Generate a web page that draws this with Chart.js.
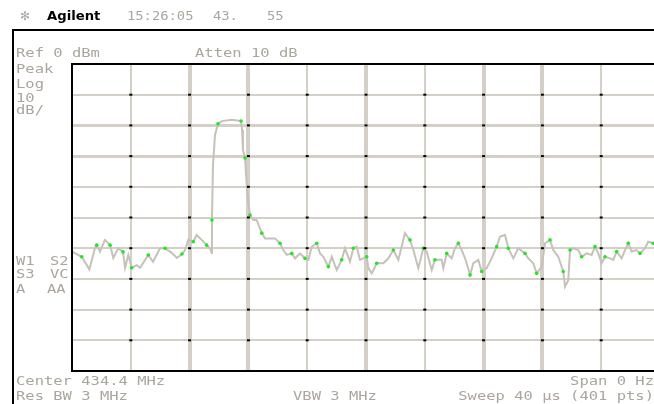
<!DOCTYPE html>
<html>
<head>
<meta charset="utf-8">
<script src="https://cdn.jsdelivr.net/npm/chart.js@4.4.0/dist/chart.umd.min.js"></script>
<style>
html, body { margin: 0; padding: 0; overflow: hidden; background: #fff; }
#wrap { width: 664px; height: 404px; }
</style>
</head>
<body>
<div id="wrap"><canvas id="sweepChart" width="664" height="404"></canvas></div>
<script>
// zero span sweep, 40 us across 10 divisions, 0 dBm ref, 10 dB/div
const timeUs = [
    0.00, 0.66, 1.18, 1.56, 1.68, 1.90, 2.24, 2.59, 2.81, 3.15, 3.47, 3.61, 3.83, 4.06, 4.40, 4.63,
    5.19, 5.51, 5.99, 6.33, 6.80, 7.14, 7.48, 7.69, 7.91, 8.25, 8.48, 8.82, 9.16, 9.39, 9.50, 9.52,
    9.59, 9.73, 9.93, 10.20, 10.88, 11.50, 11.57, 11.63, 11.77, 11.91, 12.04, 12.11, 12.33, 12.56,
    12.91, 13.13, 13.81, 14.15, 14.37, 14.61, 14.95, 15.17, 15.51, 15.85, 16.08, 16.31, 16.65, 16.87,
    17.10, 17.44, 17.67, 18.01, 18.35, 18.57, 18.91, 19.14, 19.37, 19.59, 20.05, 20.16, 20.39, 20.73,
    21.18, 21.52, 21.86, 22.20, 22.65, 22.99, 23.22, 23.56, 23.90, 24.13, 24.47, 24.69, 25.15, 25.26,
    25.49, 25.83, 26.05, 26.28, 26.51, 26.74, 27.08, 27.30, 27.64, 27.87, 28.21, 28.55, 28.89, 29.12,
    29.46, 29.68, 30.02, 30.36, 30.82, 31.04, 31.38, 31.61, 31.95, 32.18, 32.52, 32.74, 33.08, 33.42,
    33.54, 33.76, 33.88, 34.10, 34.44, 34.67, 35.01, 35.35, 35.58, 35.80, 36.03, 36.26, 36.60, 36.82,
    37.05, 37.39, 37.62, 37.84, 38.07, 38.41, 38.64, 38.98, 39.20, 39.54, 40.00
];
const levelDbm = [
    -61.1, -62.8, -66.9, -60.0, -59.0, -61.1, -57.3, -59.0, -63.2, -60.0, -61.2, -66.4, -62.2, -66.4, -65.5, -66.4,
    -62.2, -64.4, -60.0, -60.0, -61.6, -63.2, -61.9, -60.6, -57.3, -57.9, -55.7, -57.3, -59.0, -60.0, -61.6, -50.8,
    -32.9, -23.1, -19.5, -18.6, -18.2, -18.6, -21.5, -28.0, -30.6, -41.0, -46.9, -49.2, -50.8, -50.8,
    -55.1, -56.8, -56.8, -58.4, -60.6, -62.2, -61.7, -63.3, -61.7, -63.3, -63.8, -59.5, -58.4, -61.7,
    -62.8, -66.0, -62.8, -67.1, -63.8, -60.0, -64.4, -60.0, -59.5, -63.8, -62.8, -66.5, -68.2, -64.9,
    -64.9, -63.3, -60.6, -63.8, -55.1, -57.3, -60.6, -66.5, -60.0, -61.1, -67.1, -63.8, -63.8, -66.5,
    -61.7, -63.3, -60.0, -58.4, -60.6, -63.3, -68.7, -64.9, -63.8, -67.6, -66.5, -63.3, -59.5, -56.2,
    -55.7, -60.0, -63.3, -60.0, -61.7, -63.3, -64.9, -68.2, -66.0, -58.4, -57.3, -60.6, -62.8, -67.6,
    -72.5, -70.4, -60.6, -60.0, -60.6, -62.8, -61.7, -62.2, -59.5, -61.7, -64.9, -62.8, -63.3, -63.8,
    -61.1, -63.3, -60.6, -58.4, -61.1, -60.6, -61.7, -60.0, -57.9, -58.4, -59.0
];
const xDivisions = [0, 4, 8, 12, 16, 20, 24, 28, 32, 36, 40];
const yDivisions = [0, -10, -20, -30, -40, -50, -60, -70, -80, -90, -100];

const headerText = ['15:26:05', '43.', '55'];
const leftLabels = ['Peak', 'Log', '10', 'dB/'];
const footerLeft = ['Center 434.4 MHz', 'Res BW 3 MHz'];
const footerRight = ['Span 0 Hz', 'Sweep 40 \u00b5s (401 pts)'];

const GRID = '#d4d0c8';
const TEXT = '#aaa69e';
const thickX = [2, 3, 5, 7, 8];
const thickY = [2, 3];

function label(ctx, text, x, y, opts) {
    opts = opts || {};
    ctx.save();
    ctx.translate(x, y);
    ctx.scale(opts.sx || 1.29, 1);
    ctx.font = opts.font || "12px 'DejaVu Sans Mono'";
    ctx.fillStyle = opts.color || TEXT;
    ctx.textAlign = opts.align || 'left';
    ctx.textBaseline = 'middle';
    ctx.fillText(text, 0, 0);
    ctx.restore();
}

const analyzerScreen = {
    id: 'analyzerScreen',
    afterDraw(chart) {
        const ctx = chart.ctx;
        const xs = chart.scales.x, ys = chart.scales.y;
        const a = chart.chartArea;

        // graticule dots at intersections
        ctx.fillStyle = '#000';
        xDivisions.slice(1, -1).forEach(t => {
            yDivisions.slice(1, -1).forEach(v => {
                ctx.fillRect(xs.getPixelForValue(t) - 1.5, ys.getPixelForValue(v) - 1, 3, 2);
            });
        });

        // plot border
        ctx.strokeStyle = '#000';
        ctx.lineWidth = 2;
        ctx.strokeRect(a.left, a.top, a.right - a.left, a.bottom - a.top);

        // outer screen frame
        ctx.beginPath();
        ctx.moveTo(13, 404);
        ctx.lineTo(13, 30);
        ctx.lineTo(664, 30);
        ctx.stroke();

        // header
        label(ctx, '\u273b', 20, 17, { font: "12px 'DejaVu Sans'", sx: 1 });
        label(ctx, 'Agilent', 47, 17, { font: "bold 12px 'DejaVu Sans'", sx: 1.1, color: '#000' });
        label(ctx, headerText[0], 127, 17, { sx: 1.15 });
        label(ctx, headerText[1], 213, 17, { sx: 1.15 });
        label(ctx, headerText[2], 267, 17, { sx: 1.15 });

        label(ctx, 'Ref 0 dBm', 16, 54);
        label(ctx, 'Atten 10 dB', 195, 54);
        const ly = [70, 85, 99, 111];
        leftLabels.forEach((t, i) => label(ctx, t, 16, ly[i]));
        label(ctx, 'W1', 16, 262); label(ctx, 'S2', 50, 262);
        label(ctx, 'S3', 16, 275); label(ctx, 'VC', 50, 275);
        label(ctx, 'A', 16, 290); label(ctx, 'AA', 47, 290);

        label(ctx, footerLeft[0], 16, 382);
        label(ctx, footerLeft[1], 16, 397);
        label(ctx, 'VBW 3 MHz', 293, 397);
        label(ctx, footerRight[0], 654, 382, { align: 'right' });
        label(ctx, footerRight[1], 654, 397, { align: 'right' });
    }
};

new Chart(document.getElementById('sweepChart').getContext('2d'), {
    type: 'line',
    data: {
        datasets: [{
            data: timeUs.map((t, i) => ({ x: t, y: levelDbm[i] })),
            borderColor: '#c6c2ba',
            borderWidth: 2,
            tension: 0,
            pointRadius: c => (c.dataIndex % 3 === 1 ? 1.8 : 0),
            pointBackgroundColor: '#22e622',
            pointBorderWidth: 0
        }]
    },
    options: {
        responsive: false,
        devicePixelRatio: 1,
        animation: false,
        layout: { padding: { left: 72, top: 64, right: 4, bottom: 33 } },
        plugins: { legend: { display: false }, tooltip: { enabled: false } },
        scales: {
            x: {
                type: 'linear',
                min: 0,
                max: 40,
                ticks: { display: false, stepSize: 4 },
                border: { display: false },
                grid: {
                    color: GRID,
                    drawTicks: false,
                    lineWidth: c => (c.index === 0 || c.index === 10 ? 0 : (thickX.includes(c.index) ? 4 : 2))
                }
            },
            y: {
                min: -100,
                max: 0,
                reverse: false,
                ticks: { display: false, stepSize: 10 },
                border: { display: false },
                grid: {
                    color: GRID,
                    drawTicks: false,
                    lineWidth: c => {
                        const div = 10 - c.index; // 0 at top
                        if (div === 0 || div === 10) return 0;
                        return thickY.includes(div) ? 3 : 2;
                    }
                }
            }
        }
    },
    plugins: [analyzerScreen]
});
</script>
</body>
</html>
